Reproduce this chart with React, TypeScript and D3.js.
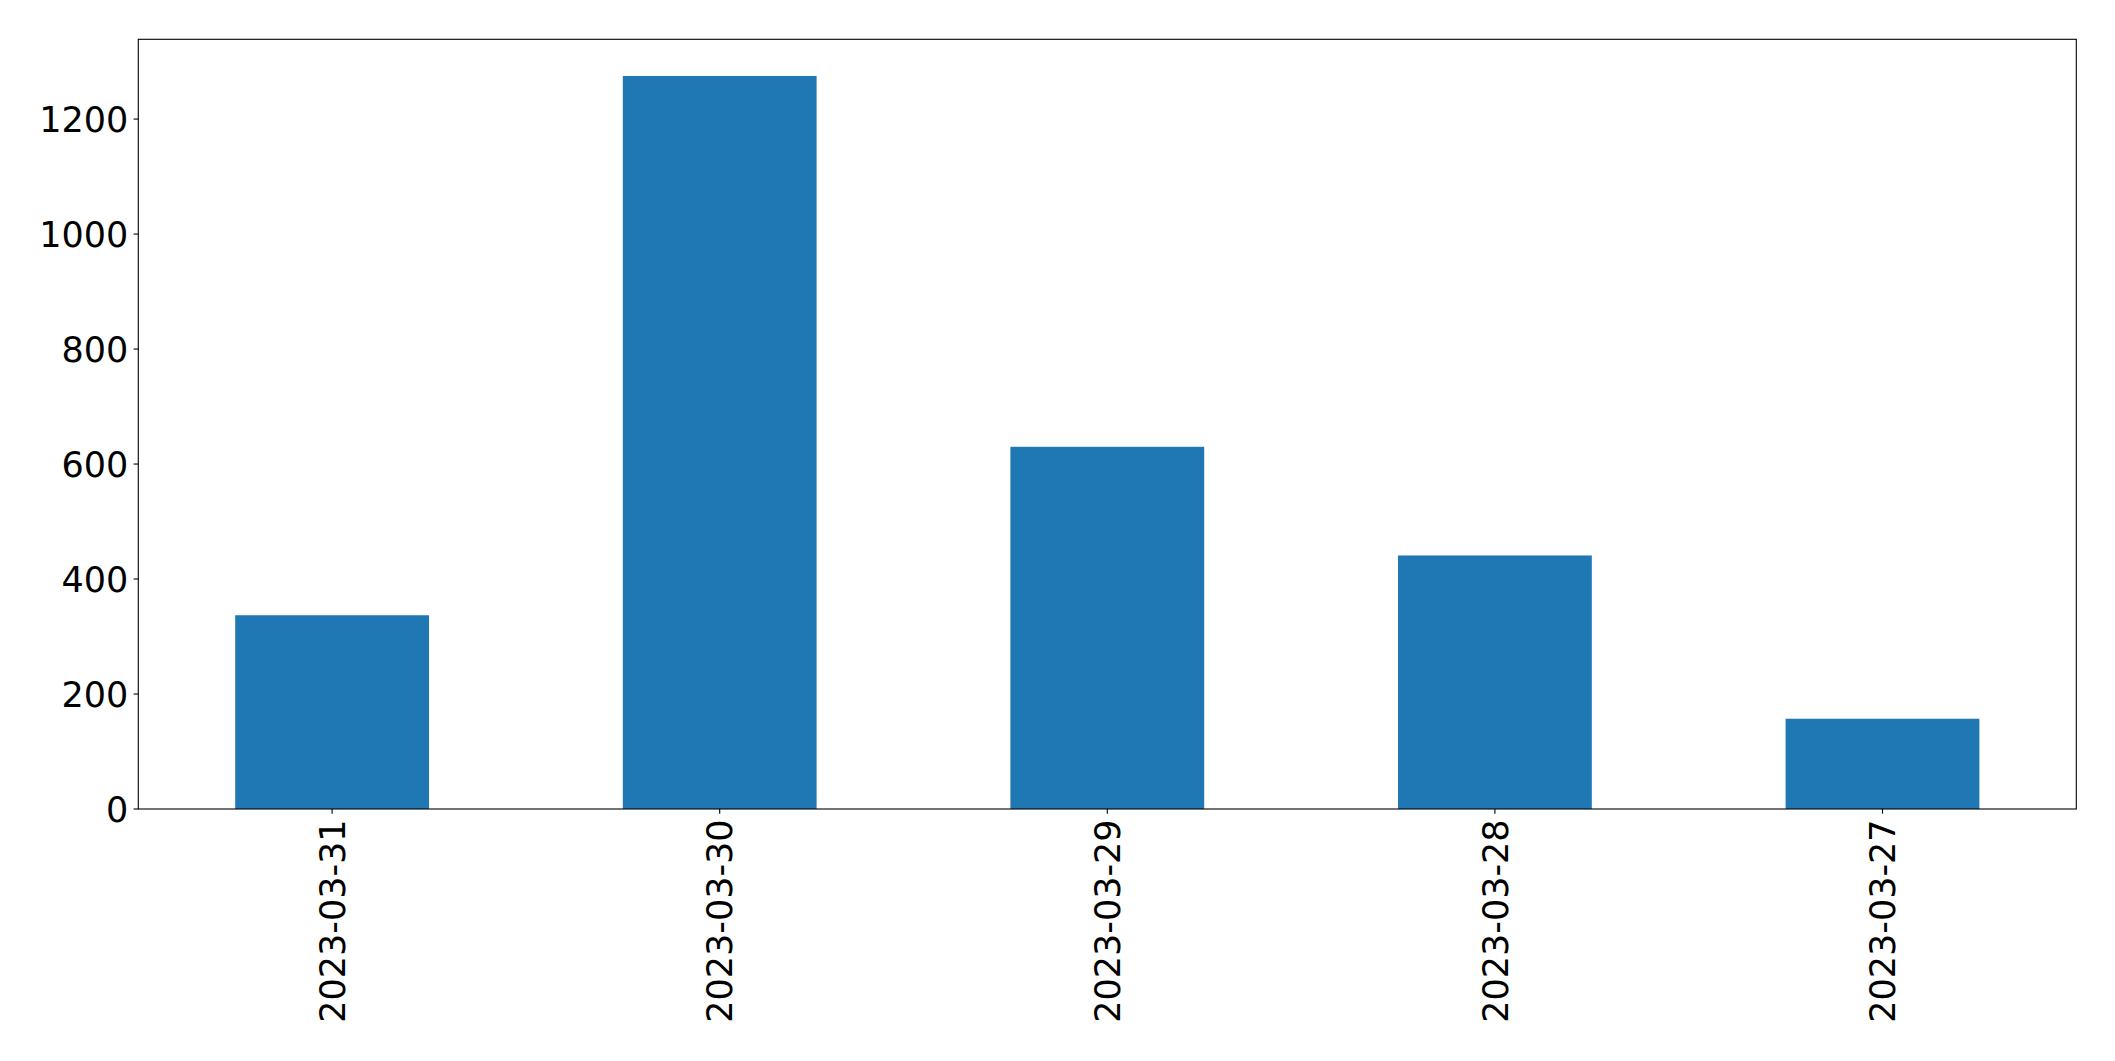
import React from "react";
import * as d3 from "d3";

const categories: string[] = ["2023-03-31", "2023-03-30", "2023-03-29", "2023-03-28", "2023-03-27"];
const values: number[] = [337, 1275, 630, 441, 157];
const yTicks: number[] = [0, 200, 400, 600, 800, 1000, 1200];

const W = 2115;
const H = 1061;
const margin = { left: 138.3, right: 2076.3, top: 39.3, bottom: 809 };
const FONT = "'DejaVu Sans', sans-serif";
const FS = 35;
const BAR = "#1f77b4";

export default function App() {
  const x = d3
    .scaleLinear()
    .domain([-0.5, categories.length - 0.5])
    .range([margin.left, margin.right]);
  const yMax = d3.max(values)! * 1.05;
  const y = d3.scaleLinear().domain([0, yMax]).range([margin.bottom, margin.top]);
  const barW = 0.5;
  const tickLen = 4.7;
  const pad = 4.7;

  return (
    <svg
      width={W}
      height={H}
      style={{ position: "absolute", left: 0, top: 0, background: "#fff" }}
      xmlns="http://www.w3.org/2000/svg"
    >
      <rect x={0} y={0} width={W} height={H} fill="#fff" />
      {values.map((v, i) => (
        <rect
          key={categories[i]}
          x={x(i - barW / 2)}
          y={y(v)}
          width={x(i + barW / 2) - x(i - barW / 2)}
          height={y(0) - y(v)}
          fill={BAR}
        />
      ))}
      <rect
        x={margin.left}
        y={margin.top}
        width={margin.right - margin.left}
        height={margin.bottom - margin.top}
        fill="none"
        stroke="#000"
        strokeWidth={1.1}
      />
      {yTicks.map((t) => (
        <g key={t}>
          <line
            x1={margin.left - tickLen}
            x2={margin.left}
            y1={y(t)}
            y2={y(t)}
            stroke="#000"
            strokeWidth={1.1}
          />
          <text
            x={margin.left - tickLen - pad - 0.5}
            y={y(t)}
            dy="0.36em"
            textAnchor="end"
            fontFamily={FONT}
            fontSize={FS}
            fill="#000"
          >
            {t}
          </text>
        </g>
      ))}
      {categories.map((c, i) => (
        <g key={c}>
          <line
            x1={x(i)}
            x2={x(i)}
            y1={margin.bottom}
            y2={margin.bottom + tickLen}
            stroke="#000"
            strokeWidth={1.1}
          />
          <text
            transform={`translate(${x(i)},${margin.bottom + tickLen + pad + 1}) rotate(-90)`}
            dy="0.36em"
            textAnchor="end"
            fontFamily={FONT}
            fontSize={FS}
            fill="#000"
          >
            {c}
          </text>
        </g>
      ))}
    </svg>
  );
}
